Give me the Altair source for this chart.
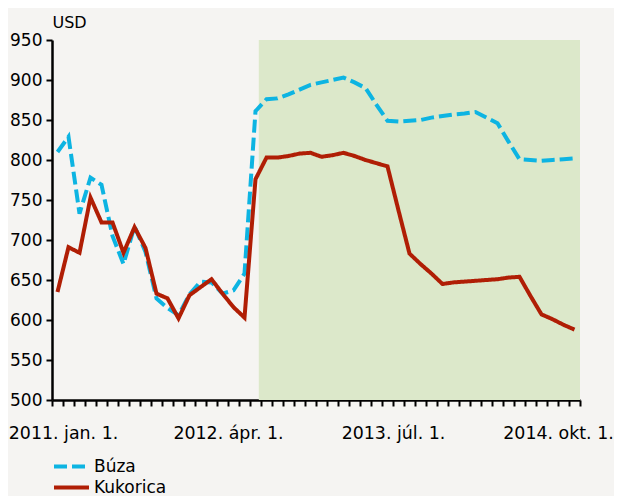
import altair as alt
import pandas as pd

# Monthly prices (USD/t), 2011 Jan .. 2014 Dec
months = [d.strftime("%Y-%m") for d in pd.date_range("2011-01-01", periods=48, freq="MS")]

buza = [810, 829, 733, 778, 769, 705, 670, 717, 685, 627, 615, 606,
        632, 648, 647, 633, 637, 658, 861, 876, 877, 882, 888, 894,
        897, 900, 903, 897, 890, 869, 849, 848, 849, 850, 853, 855,
        857, 858, 860, 853, 846, 823, 801, 800, 799, 800, 801, 802]

kukorica = [635, 691, 684, 753, 722, 722, 684, 716, 690, 633, 627, 602,
            631, 641, 651, 633, 616, 603, 776, 803, 803, 805, 808, 809,
            804, 806, 809, 805, 800, 796, 792, 737, 683, 670, 658, 645,
            647, 648, 649, 650, 651, 653, 654, 630, 607, 601, 594, 588]

series_names = ["Búza", "Kukorica"]
series_colors = ["#0DB4E2", "#B01E05"]

tick_label_pos = [1, 16, 31, 46]
tick_labels = ["2011. jan. 1.", "2012. ápr. 1.", "2013. júl. 1.", "2014. okt. 1."]

shade_start = 18.8   # forecast period shading (category index)
shade_end = 48
y_min, y_max = 500, 950

rows = []
for i, m in enumerate(months):
    rows.append({"pos": i + 0.5, "month": m, "series": "Búza", "value": buza[i]})
    rows.append({"pos": i + 0.5, "month": m, "series": "Kukorica", "value": kukorica[i]})
df = pd.DataFrame(rows)

shade_df = pd.DataFrame([{"x": shade_start, "x2": shade_end, "y": y_min, "y2": y_max}])

label_expr = " : ".join(f"datum.value == {p} ? '{t}'" for p, t in zip(tick_label_pos, tick_labels)) + " : ''"

FONT = "DejaVu Sans"

x_scale = alt.Scale(domain=[0, len(months)], nice=False, zero=False)
y_scale = alt.Scale(domain=[y_min, y_max], nice=False, zero=False)

x_axis = alt.Axis(
    values=list(range(len(months) + 1)),
    labelExpr=label_expr,
    labelOverlap=False,
    labelFlush=False,
    grid=False,
    title=None,
    domainColor="black",
    domainWidth=2.5,
    tickColor="black",
    tickWidth=2,
    tickSize=6,
    labelFontSize=17.4,
    labelFont=FONT,
    labelColor="black",
    labelPadding=18,
)

y_axis = alt.Axis(
    values=list(range(y_min, y_max + 1, 50)),
    grid=False,
    title="USD",
    titleAngle=0,
    titleAlign="left",
    titleBaseline="middle",
    titleX=0,
    titleY=-18,
    titleFontSize=16,
    titleFontWeight="normal",
    titleFont=FONT,
    titleColor="black",
    domainColor="black",
    domainWidth=2.5,
    tickColor="black",
    tickWidth=2,
    tickSize=6,
    labelFontSize=17,
    labelFont=FONT,
    labelColor="black",
    labelPadding=4,
)

shade = alt.Chart(shade_df).mark_rect(color="#DCE8CA").encode(
    x=alt.X("x:Q", scale=x_scale, axis=x_axis),
    x2="x2:Q",
    y=alt.Y("y:Q", scale=y_scale, axis=y_axis),
    y2="y2:Q",
)

legend = alt.Legend(
    title=None,
    orient="none",
    legendX=0,
    legendY=416,
    symbolType="stroke",
    symbolSize=1225,
    symbolStrokeWidth=4,
    labelFontSize=17,
    labelFont=FONT,
    labelColor="black",
    labelOffset=3,
    rowPadding=0,
    clipHeight=21,
    padding=0,
)

lines = alt.Chart(df).mark_line(strokeWidth=4).encode(
    x=alt.X("pos:Q", scale=x_scale, axis=x_axis),
    y=alt.Y("value:Q", scale=y_scale, axis=y_axis),
    color=alt.Color("series:N", scale=alt.Scale(domain=series_names, range=series_colors), legend=legend),
    strokeDash=alt.StrokeDash("series:N", scale=alt.Scale(domain=series_names, range=[[13, 5], [1, 0]]), legend=legend),
    order="pos:Q",
)

chart = alt.layer(shade, lines).properties(
    width=528,
    height=360,
    autosize=alt.AutoSizeParams(type="none"),
    padding={"left": 44, "top": 32, "right": 34, "bottom": 96},
    background="#F5F4F2",
).configure_view(stroke=None)

chart.save("out.html", embed_options={"renderer": "svg", "actions": False})
